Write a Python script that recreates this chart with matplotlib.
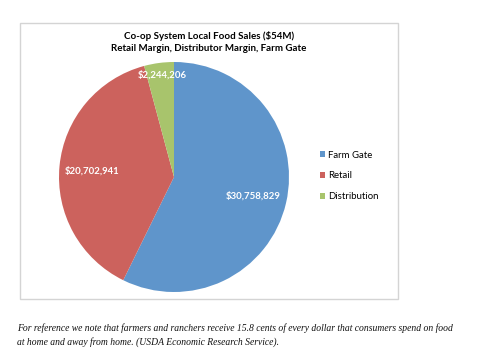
import numpy as np
import matplotlib.pyplot as plt
from matplotlib.patches import Rectangle, Patch

categories = ["Farm Gate", "Retail", "Distribution"]
sales = [30758829, 20702941, 2244206]
value_labels = ["$30,758,829", "$20,702,941", "$2,244,206"]
colors = ["#5f95cb", "#cc625d", "#a8c46c"]

title = "Co-op System Local Food Sales ($54M)\nRetail Margin, Distributor Margin, Farm Gate"
caption = ("For reference we note that farmers and ranchers receive 15.8 cents of every dollar that consumers spend on food\n"
           "at home and away from home. (USDA Economic Research Service).")

W, H = 486, 359
fig = plt.figure(figsize=(W / 100, H / 100), dpi=100)
fig.patch.set_facecolor("white")

# chart frame
fig.patches.append(Rectangle((20 / W, 1 - 299 / H), 378 / W, 276 / H,
                             transform=fig.transFigure, fill=False,
                             edgecolor="#d4d4d4", linewidth=1.0))

cx, cy, r = 174, 177, 115
ax = fig.add_axes([(cx - r) / W, 1 - (cy + r) / H, 2 * r / W, 2 * r / H])
wedges, _ = ax.pie(sales, colors=colors, startangle=90, counterclock=False,
                   radius=1.0, wedgeprops=dict(linewidth=0))
ax.set_xlim(-1, 1)
ax.set_ylim(-1, 1)
ax.set_aspect("equal")
ax.axis("off")

# label placement (distance from centre, angle tweak in degrees)
label_dist = [0.71, 0.71, 0.89]
label_shift = [-0.5, 1.5, -0.8]
for w, lab, d, s in zip(wedges, value_labels, label_dist, label_shift):
    ang = np.deg2rad((w.theta1 + w.theta2) / 2 + s)
    ax.text(d * np.cos(ang), d * np.sin(ang), lab, ha="center", va="center",
            color="white", fontsize=6.9, fontweight="bold", family="Lato")

fig.text(209 / W, 1 - 42 / H, title, ha="center", va="center", fontsize=7.0,
         fontweight="bold", family="Lato", linespacing=1.45)

handles = [Patch(facecolor=c, edgecolor="none") for c in colors]
fig.legend(handles, categories, loc="center left", bbox_to_anchor=(311 / W, 1 - 176 / H),
           frameon=False, handlelength=0.55, handleheight=0.55,
           handletextpad=0.35, labelspacing=1.25, prop={"family": "Lato", "size": 6.9})

fig.text(17 / W, 1 - 335 / H, caption, ha="left", va="center", fontsize=6.95,
         style="italic", family="Liberation Serif", linespacing=1.6, color="#111111")

fig.savefig("out.png", dpi=100)
